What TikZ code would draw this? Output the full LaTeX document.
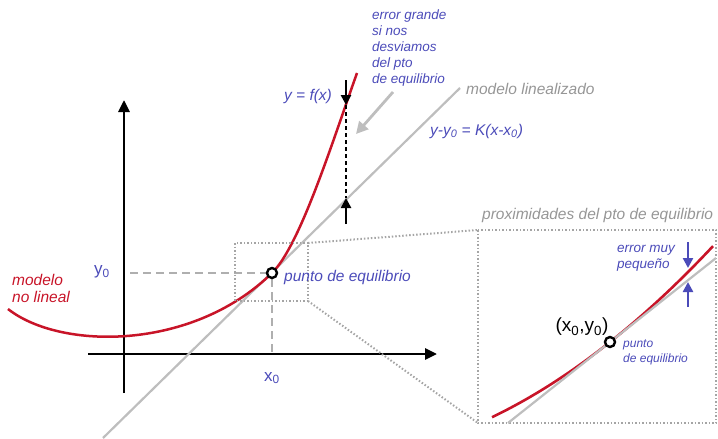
\documentclass[tikz,border=0pt]{standalone}
\usepackage{fontspec}
\setmainfont{Liberation Sans}
\usetikzlibrary{arrows.meta}
\definecolor{txtblue}{RGB}{75,75,185}
\definecolor{curvered}{RGB}{200,20,40}
\definecolor{linegray}{RGB}{190,190,190}
\definecolor{txtgray}{RGB}{150,150,150}
\definecolor{dotgray}{RGB}{165,165,165}
\definecolor{dashgray}{RGB}{175,175,175}
\begin{document}
\begin{tikzpicture}[x=1pt,y=-1pt,
  axisline/.style={line width=2.8pt, -{Triangle[length=12pt,width=11pt]}},
  linmodel/.style={linegray, line width=2.2pt},
  nonlin/.style={curvered, line width=2.5pt},
  guide/.style={dashgray, line width=2.4pt, dash pattern=on 8pt off 5pt},
  dotbox/.style={dotgray, line width=2pt, dash pattern=on 1.5pt off 2pt},
  errarrow/.style={line width=2.6pt, -{Triangle[length=10pt,width=10pt]}},
  bluearrow/.style={txtblue, line width=2.4pt, -{Triangle[length=10pt,width=10pt]}},
  eqpt/.style={circle, draw=black, line width=2.4pt, fill=white, minimum size=10pt, inner sep=0pt},
  lbl/.style={inner sep=0pt, font=\fontsize{15.5}{17}\selectfont\itshape},
  bluelbl/.style={lbl, text=txtblue},
  graylbl/.style={lbl, text=txtgray},
  redlbl/.style={lbl, text=curvered, align=left},
  smallblue/.style={inner sep=0pt, text=txtblue, align=left, font=\fontsize{13.5}{16}\selectfont\itshape},
  tinyblue/.style={inner sep=0pt, text=txtblue, align=left, font=\fontsize{12}{15}\selectfont\itshape},
  mathlbl/.style={inner sep=0pt, text=txtblue, font=\fontsize{17}{19}\selectfont}
]
\useasboundingbox (0,0) rectangle (718,439);

% ---------- main plot ----------
\coordinate (ybot) at (124,393);
\coordinate (ytop) at (124,100);
\coordinate (xleft) at (88,354);
\coordinate (xright) at (437,354);
\draw[axisline] (ybot) -- (ytop);
\draw[axisline] (xleft) -- (xright);

% linearised model
\coordinate (linA) at (103,438);
\coordinate (linB) at (460,88);
\draw[linmodel] (linA) -- (linB);

% guides to x0, y0
\coordinate (gy) at (130,273);
\coordinate (gyend) at (267,273);
\coordinate (gx) at (272,279);
\coordinate (gxend) at (272,354);
\draw[guide] (gy) -- (gyend);
\draw[guide] (gx) -- (gxend);

% non linear curve
\coordinate (cstart) at (8,309);
\coordinate (ceq) at (272,273);
\coordinate (cend) at (357,73);
\draw[nonlin] (cstart) .. controls (60,350) and (192,351.4) .. (ceq)
  .. controls (300,245.6) and (332,143) .. (cend);

% small dotted box and zoom connectors
\coordinate (sbTL) at (235,243);
\coordinate (sbTR) at (308,243);
\coordinate (sbBR) at (308,301);
\coordinate (bbTL) at (478,230);
\coordinate (bbBL) at (478,423);
\coordinate (bbBR) at (716,423);
\draw[dotbox] (sbTL) rectangle (sbBR);
\draw[dotbox] (sbTR) -- (bbTL);
\draw[dotbox] (sbBR) -- (bbBL);
\draw[dotbox] (bbTL) rectangle (bbBR);

% equilibrium point
\node[eqpt] (eq) at (272,273) {};

% error arrows
\coordinate (eTopS) at (346,80);
\coordinate (eTopT) at (346,105);
\coordinate (eBotS) at (346,224);
\coordinate (eBotT) at (346,198);
\draw[errarrow] (eTopS) -- (eTopT);
\draw[line width=1.5pt, dash pattern=on 4pt off 3pt] (eTopT) -- (eBotT);
\draw[errarrow] (eBotS) -- (eBotT);

% labels
\node[mathlbl] (y0) at (102,272) {y\textsubscript{0}};
\node[mathlbl] (x0) at (272,378) {x\textsubscript{0}};
\node[bluelbl, anchor=west] (pe) at (284,277) {punto de equilibrio};
\node[redlbl, anchor=north west] (nl) at (12,274) {modelo\\no lineal};
\node[bluelbl] (yf) at (308,96) {y = f(x)};
\node[graylbl, anchor=west] (ml) at (466,89) {modelo linealizado};
\node[bluelbl, anchor=west] (eqn) at (430,131) {y-y\textsubscript{0} = K(x-x\textsubscript{0})};
\node[smallblue, anchor=north west] (eg) at (372,10) {error grande\\si nos\\desviamos\\del pto\\de equilibrio};
\coordinate (gaS) at (393,92);
\coordinate (gaT) at (356,134);
\draw[linegray, line width=2.8pt, -{Triangle[length=12pt,width=12pt]}] (gaS) -- (gaT);
\node[graylbl, anchor=west] (prox) at (482,215) {proximidades del pto de equilibrio};

% ---------- zoom panel ----------
\coordinate (zlA) at (508,423);
\coordinate (zlB) at (716,258);
\draw[nonlin, line width=2.6pt] plot[domain=492:713, samples=60] (\x, {342 - 0.794*(\x-610) - 0.00132*(\x-610)*(\x-610)});
\draw[linmodel] (zlA) -- (zlB);
\node[eqpt] (zeq) at (610,342) {};
\node[inner sep=0pt, font=\fontsize{19}{21}\selectfont] (zxy) at (582,327) {(x\textsubscript{0},y\textsubscript{0})};
\node[tinyblue, anchor=north west] (zpe) at (623,340) {punto\\de equilibrio};
\node[smallblue, anchor=north west] (zem) at (617,245) {error muy\\pequeño};
\coordinate (zaTS) at (688,242);
\coordinate (zaTT) at (688,268);
\coordinate (zaBS) at (688,307);
\coordinate (zaBT) at (688,282);
\draw[bluearrow] (zaTS) -- (zaTT);
\draw[bluearrow] (zaBS) -- (zaBT);
\end{tikzpicture}
\end{document}
